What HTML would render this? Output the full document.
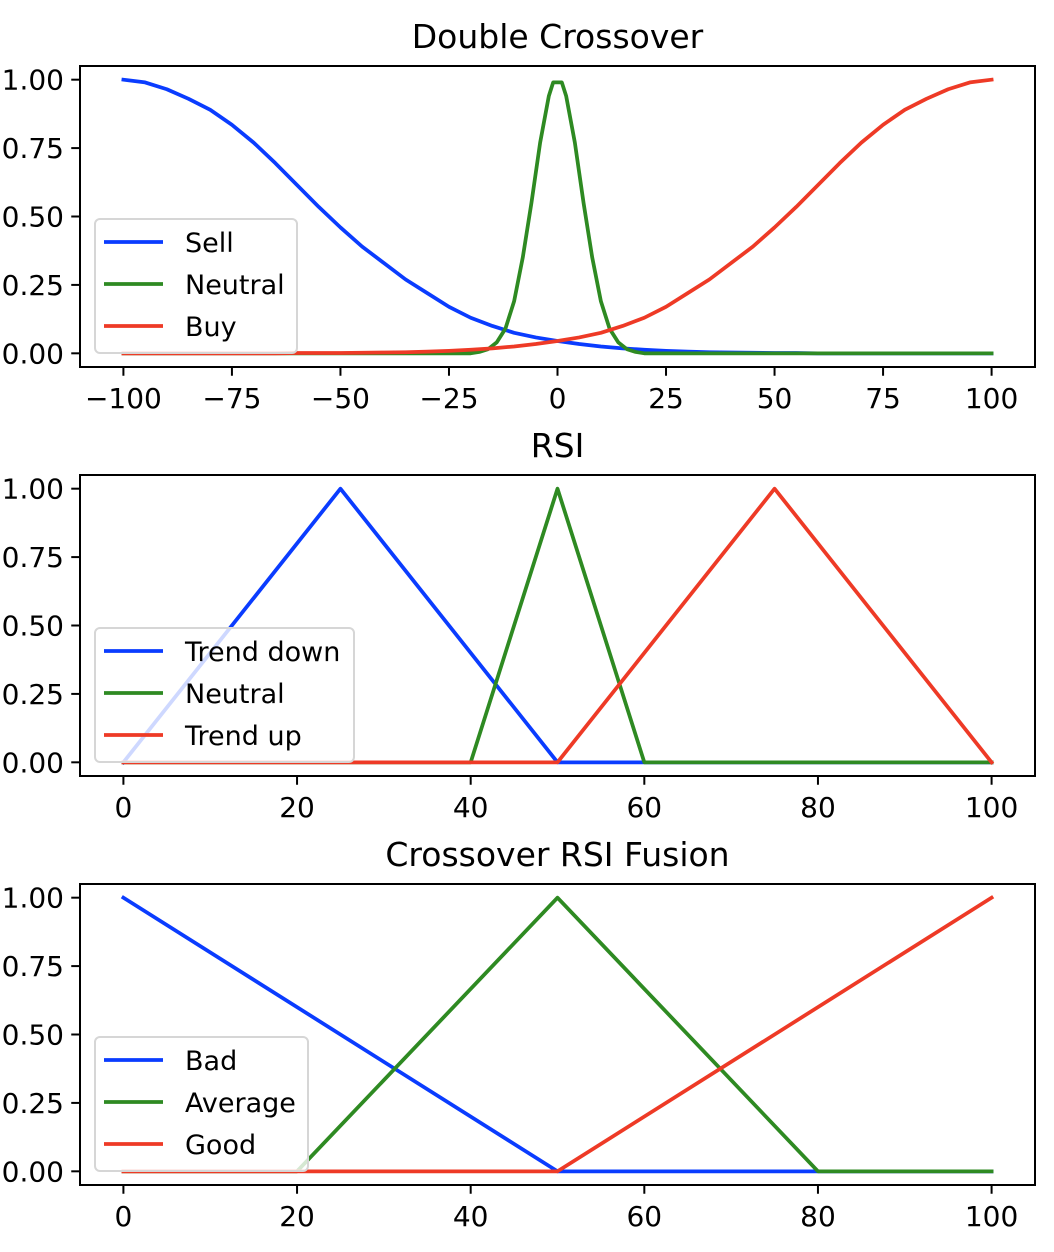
<!DOCTYPE html>
<html><head><meta charset="utf-8"><style>
html,body{margin:0;padding:0;background:#fff;}
svg{display:block;font-family:"DejaVu Sans","Liberation Sans",sans-serif;}
</style></head><body>
<svg id="fig" width="1054" height="1252" viewBox="0 0 1054 1252"></svg>
<script>
// Panel 1: Double Crossover
const dcX = [-100,-95,-90,-85,-80,-75,-70,-65,-60,-55,-50,-45,-40,-35,-30,-25,-20,-15,-10,-5,0,5,10,15,20,25,30,35,40,45,50,55,60,65,70,75,80,85,90,95,100];
const dcSell = [1.00,0.99,0.965,0.93,0.89,0.835,0.77,0.695,0.615,0.535,0.46,0.39,0.33,0.27,0.22,0.17,0.13,0.10,0.075,0.058,0.045,0.034,0.025,0.018,0.013,0.009,0.006,0.004,0.003,0.002,0.001,0.001,0,0,0,0,0,0,0,0,0];
const dcBuy = [0,0,0,0,0,0,0,0,0.001,0.001,0.001,0.002,0.003,0.004,0.006,0.009,0.013,0.018,0.025,0.034,0.045,0.058,0.075,0.10,0.13,0.17,0.22,0.27,0.33,0.39,0.46,0.535,0.615,0.695,0.77,0.835,0.89,0.93,0.965,0.99,1.00];
const dcNeutralX = [-100,-20,-18,-16,-14,-12,-10,-8,-6,-4,-2,-1,1,2,4,6,8,10,12,14,16,18,20,100];
const dcNeutral = [0,0,0.005,0.015,0.04,0.09,0.19,0.35,0.55,0.77,0.94,0.99,0.99,0.94,0.77,0.55,0.35,0.19,0.09,0.04,0.015,0.005,0,0];
const dcXTicks = [-100,-75,-50,-25,0,25,50,75,100];
const dcXTickLabels = ["\u2212100","\u221275","\u221250","\u221225","0","25","50","75","100"];
// Panel 2: RSI
const rsiDownX = [0,25,50,100]; const rsiDown = [0,1,0,0];
const rsiNeutralX = [0,40,50,60,100]; const rsiNeutral = [0,0,1,0,0];
const rsiUpX = [0,50,75,100]; const rsiUp = [0,0,1,0];
// Panel 3: Fusion
const fBadX = [0,50,100]; const fBad = [1,0,0];
const fAvgX = [0,20,50,80,100]; const fAvg = [0,0,1,0,0];
const fGoodX = [0,50,100]; const fGood = [0,0,1];
const pctTicks = [0,20,40,60,80,100];
const pctTickLabels = ["0","20","40","60","80","100"];
const yTicks = [0,0.25,0.5,0.75,1];
const yTickLabels = ["0.00","0.25","0.50","0.75","1.00"];

const BLUE="#0a3cff", GREEN="#2e8a22", RED="#ee3a26";
const NS="http://www.w3.org/2000/svg";
const svg=document.getElementById('fig');
function mk(tag,attrs,parent){const e=document.createElementNS(NS,tag);for(const k in attrs)e.setAttribute(k,attrs[k]);(parent||svg).appendChild(e);return e;}

function panel(cfg){
  const L=80,R=1035,T=cfg.top,B=cfg.top+301;
  const g=mk('g',{});
  
  
  const span=cfg.xmax-cfg.xmin, x0=cfg.xmin-span*0.05, x1=cfg.xmax+span*0.05;
  const sx=v=>L+(v-x0)/(x1-x0)*(R-L);
  const sy=v=>B-(v+0.05)/1.1*(B-T);
  const t=mk('text',{x:(L+R)/2,y:T-18,'text-anchor':'middle','font-size':33,fill:'#000'},g);
  t.textContent=cfg.title;
  
  
  cfg.series.forEach(s=>{
    const p=mk('polyline',{points:s.x.map((v,i)=>sx(v).toFixed(2)+','+sy(s.y[i]).toFixed(2)).join(' '),fill:'none',stroke:s.color,'stroke-width':3.75,'stroke-linejoin':'round','stroke-linecap':'square'},g);
    
    
  });
  const fr=mk('rect',{x:L,y:T,width:R-L,height:B-T,fill:'none',stroke:'#000','stroke-width':2},g);
  
  
  yTicks.forEach((v,i)=>{
    const y=sy(v);
    mk('line',{x1:L-8.75,x2:L,y1:y,y2:y,stroke:'#000','stroke-width':2},g);
    const tl=mk('text',{x:L-16,y:y+10,'text-anchor':'end','font-size':28,fill:'#000'},g);
    tl.textContent=yTickLabels[i];
    
    
  });
  cfg.xticks.forEach((v,i)=>{
    const x=sx(v);
    mk('line',{x1:x,x2:x,y1:B,y2:B+8.75,stroke:'#000','stroke-width':2},g);
    const tl=mk('text',{x:x,y:B+41,'text-anchor':'middle','font-size':28,fill:'#000'},g);
    tl.textContent=cfg.xlabels[i];
    
    
  });
  const lg=mk('g',{},g);
  
  
  mk('rect',{x:95,y:T+153,width:cfg.legW,height:134,rx:5,fill:'#fff','fill-opacity':0.8,stroke:'#d6d6d6','stroke-width':2},lg);
  cfg.series.forEach((s,i)=>{
    const y=T+176+i*42;
    const e=mk('g',{},lg);
    
    
    mk('line',{x1:104,x2:163,y1:y,y2:y,stroke:s.color,'stroke-width':3.75},e);
    const tx=mk('text',{x:185,y:y+10,'font-size':27,fill:'#000'},e);
    tx.textContent=s.label;
  });
}

panel({name:'double-crossover-panel',title:'Double Crossover',top:66,xmin:-100,xmax:100,xticks:dcXTicks,xlabels:dcXTickLabels,legW:202,
  series:[{label:'Sell',x:dcX,y:dcSell,color:BLUE},{label:'Neutral',x:dcNeutralX,y:dcNeutral,color:GREEN},{label:'Buy',x:dcX,y:dcBuy,color:RED}]});
panel({name:'rsi-panel',title:'RSI',top:475,xmin:0,xmax:100,xticks:pctTicks,xlabels:pctTickLabels,legW:259,
  series:[{label:'Trend down',x:rsiDownX,y:rsiDown,color:BLUE},{label:'Neutral',x:rsiNeutralX,y:rsiNeutral,color:GREEN},{label:'Trend up',x:rsiUpX,y:rsiUp,color:RED}]});
panel({name:'crossover-rsi-fusion-panel',title:'Crossover RSI Fusion',top:884,xmin:0,xmax:100,xticks:pctTicks,xlabels:pctTickLabels,legW:213,
  series:[{label:'Bad',x:fBadX,y:fBad,color:BLUE},{label:'Average',x:fAvgX,y:fAvg,color:GREEN},{label:'Good',x:fGoodX,y:fGood,color:RED}]});
</script>
</body></html>
